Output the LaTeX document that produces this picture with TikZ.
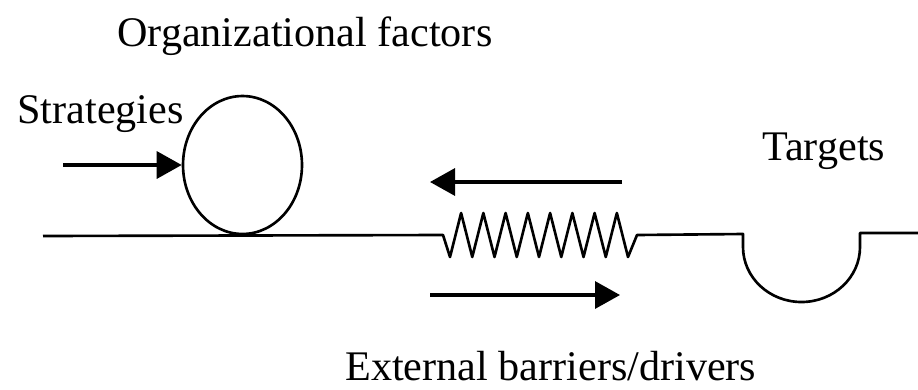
\documentclass[tikz,border=0pt]{standalone}
\usepackage{fontspec}
\setmainfont{Liberation Serif}
\usepackage{tikz}
\usetikzlibrary{positioning, shapes.geometric, arrows.meta}

\begin{document}
\begin{tikzpicture}[
    x=0.02cm, y=-0.02cm,
    label/.style={anchor=base west, inner sep=0pt, font=\fontsize{24}{28}\selectfont},
    ring/.style={draw, ellipse, line width=1.5pt, inner sep=0pt,
                 minimum width=2.38cm, minimum height=2.76cm},
    ground/.style={line width=1.5pt, line join=round},
    arrow/.style={-{Triangle[length=0.5cm, width=0.54cm]}, line width=1.9pt}
]
\useasboundingbox (0,0) rectangle (918,389);

\node[label] (orgtext)  at (117,46)  {Organizational factors};
\node[label] (strattext) at (17,123) {Strategies};
\node[label] (targtext) at (762,160) {Targets};
\node[label] (exttext)  at (345,380) {External barriers/drivers};

\node[ring] (org) at (242.5,165) {};

\coordinate (stratin)  at (63,165);
\coordinate (lstart)   at (43,236);
\coordinate (zzin)     at (443,235);
\coordinate (zzout)    at (637,235);
\coordinate (cupl)     at (743,234);
\coordinate (cupr)     at (860,233);
\coordinate (lend)     at (918,233);
\coordinate (backfrom) at (622,182);
\coordinate (backto)   at (430,182);
\coordinate (fwdfrom)  at (430,295);
\coordinate (fwdto)    at (620,295);

% ground line with spring and target cup
\draw[ground] (lstart) -- (zzin) -- (450,257)
    \foreach \k in {0,...,7} { -- ({461.1+22.25*\k},213) -- ({472.25+22.25*\k},257) }
    -- (zzout) -- (cupl) -- (743,247)
    arc[start angle=180, end angle=360, x radius=58.5, y radius=-55]
    -- (cupr) -- (lend);

\draw[arrow] (stratin) -- (org.west);
\draw[arrow] (backfrom) -- (backto);
\draw[arrow] (fwdfrom) -- (fwdto);
\end{tikzpicture}
\end{document}
